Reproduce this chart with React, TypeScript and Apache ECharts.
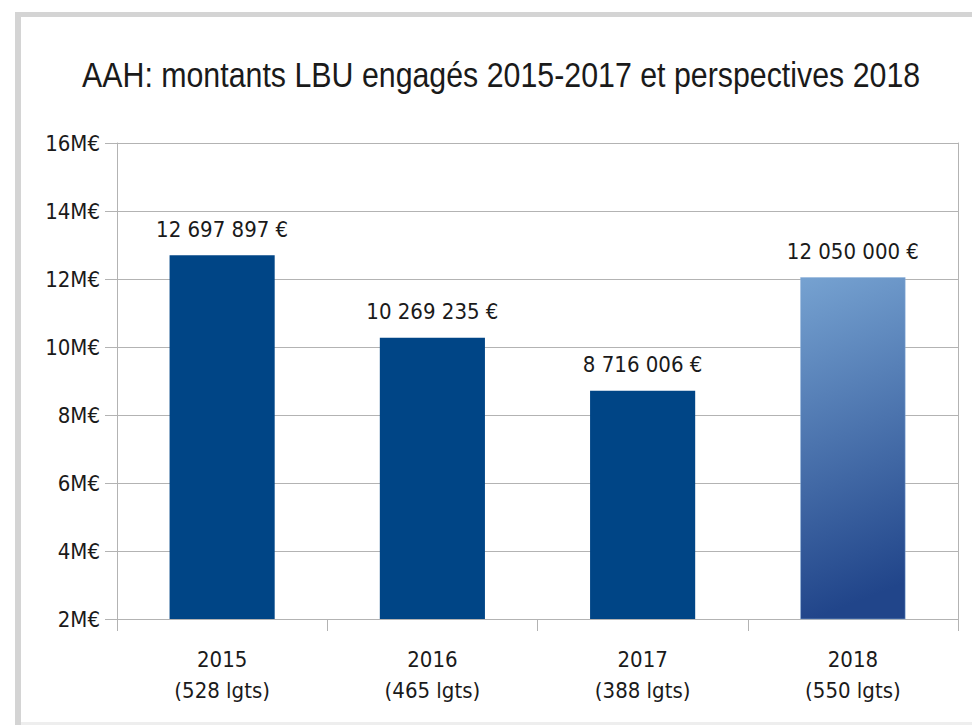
import React, { useEffect, useRef } from "react";
import * as echarts from "echarts";

const years = ["2015", "2016", "2017", "2018"];
const lodgings = [528, 465, 388, 550];
const amounts = [12697897, 10269235, 8716006, 12050000];
const yTicksM = [2, 4, 6, 8, 10, 12, 14, 16];
const titleText = "AAH: montants LBU engagés 2015-2017 et perspectives 2018";

const FONT = "'Liberation Sans Narrow', 'DejaVu Sans Condensed', 'Arial Narrow', sans-serif";
const TITLE_FONT = "'Liberation Sans', Arial, sans-serif";

function fmt(v: number): string {
  return String(Math.round(v)).replace(/\B(?=(\d{3})+(?!\d))/g, " ") + " €";
}

export default function App() {
  const ref = useRef<HTMLDivElement>(null);
  useEffect(() => {
    if (!ref.current) return;
    const chart = echarts.init(ref.current, null, { renderer: "svg" });

    // condense the title to the reference's narrow width
    let titleScale = 0.8;
    try {
      const ctx = document.createElement("canvas").getContext("2d");
      if (ctx) {
        ctx.font = `36px ${TITLE_FONT}`;
        const w = ctx.measureText(titleText).width;
        if (w > 0) titleScale = 838 / w;
      }
    } catch (e) {}

    const gradient = new echarts.graphic.LinearGradient(0, 0, 0.12, 1, [
      { offset: 0, color: "#76a2d1" },
      { offset: 1, color: "#21458a" },
    ]);
    chart.setOption({
      animation: false,
      backgroundColor: "#ffffff",
      graphic: [
        { type: "rect", shape: { x: 15, y: 12, width: 957, height: 5 }, style: { fill: "#d4d4d4" }, silent: true },
        { type: "rect", shape: { x: 15, y: 12, width: 6, height: 713 }, style: { fill: "#d4d4d4" }, silent: true },
        { type: "rect", shape: { x: 21, y: 722, width: 951, height: 3 }, style: { fill: "#eeeeee" }, silent: true },
        {
          type: "text",
          x: 82,
          y: 75,
          scaleX: titleScale,
          silent: true,
          style: {
            text: titleText,
            x: 0,
            y: 0,
            fontFamily: TITLE_FONT,
            fontSize: 36,
            fill: "#1a1a1a",
            align: "left",
            verticalAlign: "middle",
          },
        },
      ],
      grid: { left: 117, right: 14, top: 143, bottom: 106, containLabel: false },
      xAxis: {
        type: "category",
        data: years.map((y, i) => `${y}\n(${lodgings[i]} lgts)`),
        boundaryGap: true,
        axisLine: { show: true, lineStyle: { color: "#b3b3b3", width: 1 } },
        axisTick: { show: true, length: 12, lineStyle: { color: "#b3b3b3" }, alignWithLabel: false },
        axisLabel: {
          margin: 25,
          fontFamily: FONT,
          fontSize: 22,
          lineHeight: 31,
          color: "#1a1a1a",
        },
      },
      yAxis: [
        {
          type: "value",
          min: yTicksM[0] * 1e6,
          max: yTicksM[yTicksM.length - 1] * 1e6,
          interval: 2e6,
          axisLine: { show: true, lineStyle: { color: "#b3b3b3" } },
          axisTick: { show: true, length: 12, lineStyle: { color: "#b3b3b3" } },
          splitLine: { show: true, lineStyle: { color: "#b3b3b3", width: 1 } },
          axisLabel: {
            margin: 17,
            fontFamily: FONT,
            fontSize: 22,
            color: "#1a1a1a",
            formatter: (v: number) => `${Math.round(v / 1e6)}M€`,
          },
        },
        {
          type: "value",
          position: "right",
          min: yTicksM[0] * 1e6,
          max: yTicksM[yTicksM.length - 1] * 1e6,
          interval: 2e6,
          axisLine: { show: true, lineStyle: { color: "#b3b3b3" } },
          axisTick: { show: false },
          splitLine: { show: false },
          axisLabel: { show: false },
        },
      ],
      series: [
        {
          type: "bar",
          yAxisIndex: 0,
          barWidth: "50%",
          data: amounts.map((v, i) => ({
            value: v,
            itemStyle: i === 3 ? { color: gradient, borderColor: "#8fb3da", borderWidth: 0.5 } : { color: "#004586" },
          })),
          label: {
            show: true,
            position: "top",
            distance: 15,
            fontFamily: FONT,
            fontSize: 22,
            color: "#1a1a1a",
            formatter: (p: any) => fmt(p.value),
          },
        },
      ],
    });
    return () => chart.dispose();
  }, []);
  return (
    <div
      ref={ref}
      style={{ position: "fixed", left: 0, top: 0, width: 972, height: 725 }}
    />
  );
}
